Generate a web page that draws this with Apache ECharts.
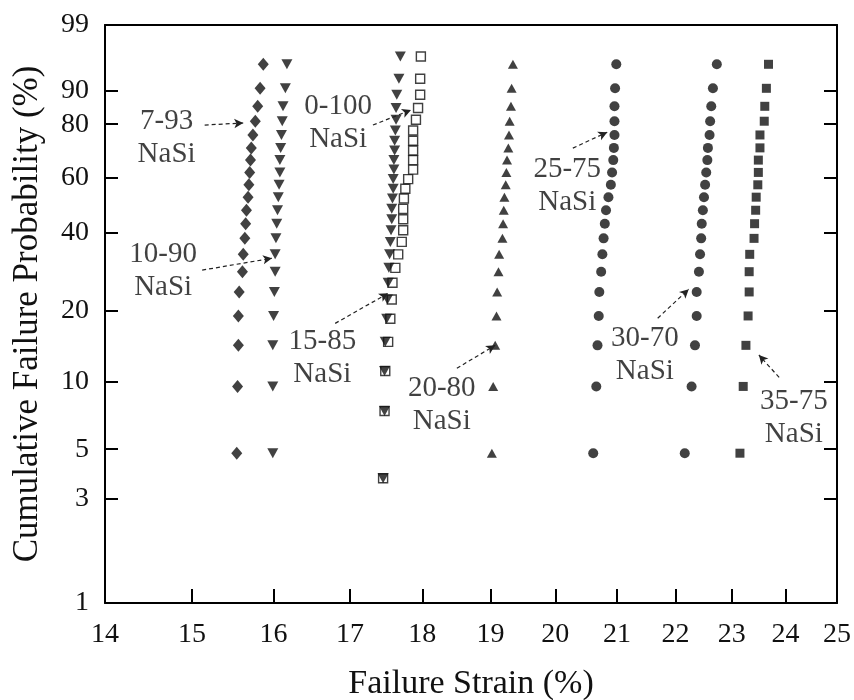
<!DOCTYPE html>
<html><head><meta charset="utf-8">
<script src="https://cdn.jsdelivr.net/npm/echarts@6/dist/echarts.min.js"></script>
<style>html,body{margin:0;padding:0;background:#fff}#c{width:854px;height:700px}</style>
</head><body><div id="c"></div>
<script>
// ---- tick labels ----
const xTickLabels = [14, 15, 16, 17, 18, 19, 20, 21, 22, 23, 24, 25];
const yTickLabels = [1, 3, 5, 10, 20, 40, 60, 80, 90, 99];

// ---- cumulative failure probability (%) of each ranked specimen ----
const prob20 = [4.8, 9.5, 14.3, 19.0, 23.8, 28.6, 33.3, 38.1, 42.9, 47.6, 52.4, 57.1, 61.9, 66.7, 71.4, 76.2, 81.0, 85.7, 90.5, 95.2];
const prob26 = [3.7, 7.4, 11.1, 14.8, 18.5, 22.2, 25.9, 29.6, 33.3, 37.0, 40.7, 44.4, 48.1, 51.9, 55.6, 59.3, 63.0, 66.7, 70.4, 74.1, 77.8, 81.5, 85.2, 88.9, 92.6, 96.3];

// ---- failure strain (%) of each series ----
const strain_7_93  = [15.54, 15.55, 15.56, 15.56, 15.57, 15.61, 15.62, 15.64, 15.65, 15.66, 15.68, 15.69, 15.70, 15.71, 15.72, 15.74, 15.77, 15.80, 15.83, 15.87];
const strain_10_90 = [15.99, 15.99, 15.99, 16.00, 16.01, 16.02, 16.02, 16.03, 16.04, 16.05, 16.06, 16.07, 16.08, 16.08, 16.09, 16.10, 16.11, 16.12, 16.15, 16.17];
const strain_0_100 = [17.45, 17.47, 17.48, 17.52, 17.55, 17.57, 17.58, 17.62, 17.66, 17.71, 17.73, 17.73, 17.73, 17.74, 17.76, 17.80, 17.87, 17.87, 17.87, 17.87, 17.87, 17.91, 17.94, 17.97, 17.97, 17.98];
const strain_15_85 = [17.45, 17.47, 17.47, 17.48, 17.50, 17.51, 17.52, 17.53, 17.54, 17.55, 17.56, 17.57, 17.57, 17.58, 17.59, 17.59, 17.60, 17.60, 17.61, 17.61, 17.62, 17.63, 17.63, 17.64, 17.67, 17.69];
const strain_20_80 = [19.02, 19.04, 19.07, 19.09, 19.10, 19.12, 19.13, 19.18, 19.19, 19.20, 19.21, 19.23, 19.24, 19.25, 19.27, 19.28, 19.29, 19.31, 19.32, 19.34];
const strain_25_75 = [20.61, 20.66, 20.68, 20.70, 20.71, 20.74, 20.76, 20.78, 20.80, 20.82, 20.86, 20.90, 20.92, 20.94, 20.95, 20.96, 20.96, 20.96, 20.97, 20.99];
const strain_30_70 = [22.16, 22.28, 22.34, 22.37, 22.37, 22.41, 22.43, 22.45, 22.46, 22.48, 22.50, 22.52, 22.54, 22.56, 22.57, 22.60, 22.61, 22.63, 22.66, 22.73];
const strain_35_75 = [23.15, 23.21, 23.26, 23.30, 23.32, 23.32, 23.33, 23.41, 23.42, 23.44, 23.45, 23.48, 23.49, 23.49, 23.52, 23.52, 23.60, 23.61, 23.64, 23.68];

// ---- annotations: [strain, prob] ----
const annotText = ['7-93\nNaSi', '10-90\nNaSi', '0-100\nNaSi', '15-85\nNaSi', '20-80\nNaSi', '25-75\nNaSi', '30-70\nNaSi', '35-75\nNaSi'];
const annotAt   = [[14.70, 75.1], [14.66, 28.7], [16.84, 80.4], [16.63, 12.6], [18.28, 7.9], [20.19, 56.6], [21.47, 13.0], [24.16, 6.9]];
const arrowFrom = [[15.15, 79.7], [15.12, 29.0], [17.31, 79.7], [16.80, 17.7], [18.50, 11.4], [20.28, 71.3], [21.69, 18.6], [23.88, 10.4]];
const arrowTo   = [[15.62, 80.4], [15.98, 32.2], [17.84, 84.6], [17.52, 23.5], [19.07, 14.3], [20.84, 77.2], [22.23, 24.4], [23.50, 13.0]];

// Weibull probability paper: x = ln(strain), y = ln(-ln(1-F))
const L = Math.log;
const W = p => Math.log(-Math.log(1 - p / 100));
const pt = (s, p) => [L(s), W(p)];
const FONT = 'Liberation Serif';
const INK = '#111';

function mk(name, strains, probs, symbol, size, rotate, open) {
  return {
    name, type: 'scatter', symbol, symbolSize: size, symbolRotate: rotate || 0,
    data: strains.map((s, i) => pt(s, probs[i])),
    itemStyle: open ? { color: '#fff', borderColor: INK, borderWidth: 1.4 } : { color: INK },
    silent: true, z: open ? 2 : 3
  };
}

const xMin = L(14), xMax = L(25), yMin = W(1), yMax = W(99);
const axisLineStyle = { color: '#000', width: 2 };

const option = {
  animation: false,
  backgroundColor: '#fff',
  grid: { left: 105, right: 17, top: 25, bottom: 97, containLabel: false, outerBoundsMode: 'none' },
  xAxis: [{
    type: 'value', min: xMin, max: xMax, position: 'bottom',
    axisLine: { show: true, onZero: false, lineStyle: axisLineStyle },
    axisTick: { show: true, inside: true, length: 14, lineStyle: { color: '#000', width: 2 },
      customValues: xTickLabels.slice(1, -1).map(L) },
    axisLabel: { customValues: xTickLabels.map(L), formatter: v => String(Math.round(Math.exp(v))),
      fontSize: 28, fontFamily: FONT, color: INK, margin: 18 },
    splitLine: { show: false },
    name: 'Failure Strain (%)', nameLocation: 'middle', nameGap: 64,
    nameTextStyle: { fontSize: 34, fontFamily: FONT, color: INK }
  }, {
    type: 'value', min: xMin, max: xMax, position: 'top',
    axisLine: { show: true, onZero: false, lineStyle: axisLineStyle },
    axisTick: { show: false }, axisLabel: { show: false }, splitLine: { show: false }
  }],
  yAxis: [{
    type: 'value', min: yMin, max: yMax, position: 'left',
    axisLine: { show: true, onZero: false, lineStyle: axisLineStyle },
    axisTick: { show: true, inside: true, length: 13, lineStyle: { color: '#000', width: 2 },
      customValues: yTickLabels.slice(1, -1).map(W) },
    axisLabel: { customValues: yTickLabels.map(W),
      formatter: v => String(Math.round(100 * (1 - Math.exp(-Math.exp(v))))),
      fontSize: 28, fontFamily: FONT, color: INK, margin: 16 },
    splitLine: { show: false },
    name: 'Cumulative Failure Probability (%)', nameLocation: 'middle', nameGap: 60, nameRotate: 90,
    nameTextStyle: { fontSize: 35, fontFamily: FONT, color: INK }
  }, {
    type: 'value', min: yMin, max: yMax, position: 'right',
    axisLine: { show: true, onZero: false, lineStyle: axisLineStyle },
    axisTick: { show: true, inside: true, length: 13, lineStyle: { color: '#000', width: 2 },
      customValues: yTickLabels.slice(1, -1).map(W) },
    axisLabel: { show: false }, splitLine: { show: false }
  }],
  series: [
    mk('0-100', strain_0_100, prob26, 'rect', 9, 0, true),
    mk('7-93', strain_7_93, prob20, 'diamond', [11, 13]),
    mk('10-90', strain_10_90, prob20, 'triangle', [11, 10], 180),
    mk('15-85', strain_15_85, prob26, 'triangle', [11, 10], 180),
    mk('20-80', strain_20_80, prob20, 'triangle', [10, 9]),
    mk('25-75', strain_25_75, prob20, 'circle', 10),
    mk('30-70', strain_30_70, prob20, 'circle', 10),
    mk('35-75', strain_35_75, prob20, 'rect', 9),
    {
      name: 'annotations', type: 'scatter', symbolSize: 1, silent: true, z: 5,
      itemStyle: { color: 'rgba(0,0,0,0)' },
      data: annotText.map((t, i) => ({ name: t, value: pt(annotAt[i][0], annotAt[i][1]) })),
      label: { show: true, position: 'inside', formatter: '{b}', fontSize: 29, lineHeight: 33,
        fontFamily: FONT, color: INK, align: 'center', verticalAlign: 'middle' },
      markLine: {
        silent: true, animation: false, symbol: ['none', 'arrow'], symbolSize: [7, 9],
        label: { show: false },
        lineStyle: { color: '#222', width: 1.2, type: [4, 3] },
        data: arrowFrom.map((f, i) => [{ coord: pt(f[0], f[1]) }, { coord: pt(arrowTo[i][0], arrowTo[i][1]) }])
      }
    }
  ]
};

const chart = echarts.init(document.getElementById('c'), null, { renderer: 'canvas' });
chart.setOption(option);
</script>
</body></html>
